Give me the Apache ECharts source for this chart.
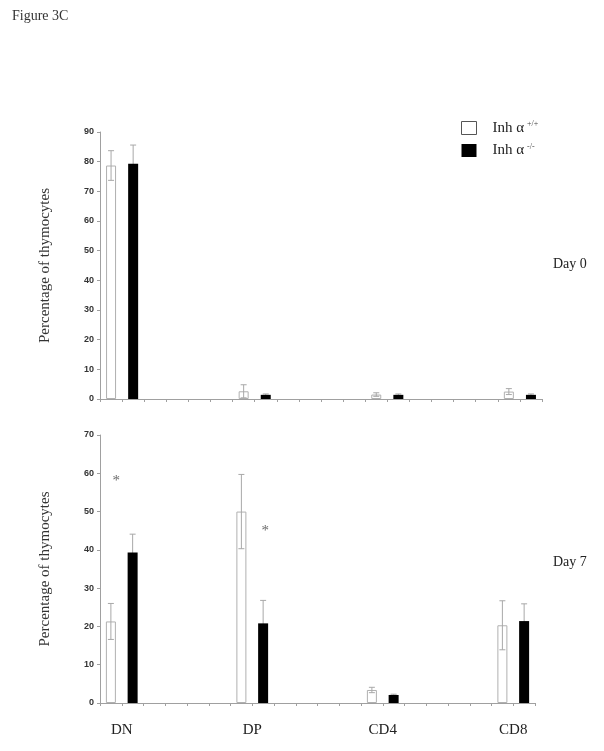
<!DOCTYPE html>
<html><head><meta charset="utf-8">
<script src="https://cdn.jsdelivr.net/npm/echarts@6/dist/echarts.min.js"></script>
<style>html,body{margin:0;padding:0;background:#fff}#c{width:604px;height:751px}</style>
</head><body><div id="c"></div>
<script>
// Data
var categories = ['DN', 'DP', 'CD4', 'CD8'];
var slotWT = [0.5, 6.5, 12.5, 18.5];   // slot position of Inh α +/+ bar in each group
var slotKO = [1.5, 7.5, 13.5, 19.5];   // slot position of Inh α -/- bar
var labelSlot = [1, 7, 13, 19];
var day0WT = [78.7, 2.6, 1.5, 2.5];
var day0WTerr = [5.0, 2.2, 0.6, 1.0];
var day0KO = [79.3, 1.4, 1.4, 1.4];
var day0KOerr = [6.3, 0.3, 0.3, 0.3];
var day7WT = [21.3, 50.0, 3.4, 20.3];
var day7WTerr = [4.7, 9.7, 0.7, 6.4];
var day7KO = [39.3, 20.8, 2.1, 21.4];
var day7KOerr = [4.8, 6.0, 0.2, 4.5];
var stars = [[0.75, 58], [7.6, 45]];
var yTicks0 = {min: 0, max: 90, interval: 10};
var yTicks7 = {min: 0, max: 70, interval: 10};

var serif = '"Liberation Serif", "DejaVu Serif", serif';
var sans = '"Liberation Sans", Arial, sans-serif';
var axisGrey = '#a0a0a0';

function pairs(xs, ys) { return xs.map(function (x, i) { return [x, ys[i]]; }); }
function errs(xs, ys, es) { return xs.map(function (x, i) { return [x, ys[i] - es[i], ys[i] + es[i]]; }); }

function errSeries(idx, data, color, z) {
  return {
    type: 'custom', xAxisIndex: idx, yAxisIndex: idx, z: z, silent: true,
    data: data,
    renderItem: function (params, api) {
      var x = api.value(0);
      var lo = api.coord([x, api.value(1)]);
      var hi = api.coord([x, api.value(2)]);
      var cw = 3;
      return {
        type: 'group', children: [
          {type: 'line', shape: {x1: lo[0], y1: lo[1], x2: hi[0], y2: hi[1]}, style: {stroke: color, lineWidth: 1}},
          {type: 'line', shape: {x1: hi[0] - cw, y1: hi[1], x2: hi[0] + cw, y2: hi[1]}, style: {stroke: color, lineWidth: 1}},
          {type: 'line', shape: {x1: lo[0] - cw, y1: lo[1], x2: lo[0] + cw, y2: lo[1]}, style: {stroke: color, lineWidth: 1}}
        ]
      };
    }
  };
}

function xAxisDef(idx, showLabels) {
  return {
    type: 'value', gridIndex: idx, min: 0, max: 20, interval: 1,
    axisLine: {lineStyle: {color: axisGrey, width: 1}},
    axisTick: {show: true, length: 3, lineStyle: {color: axisGrey}},
    splitLine: {show: false},
    axisLabel: {
      show: showLabels, margin: 20, fontFamily: serif, fontSize: 15, color: '#222',
      formatter: function (v) { var k = labelSlot.indexOf(v); return k >= 0 ? categories[k] : ''; }
    }
  };
}
function yAxisDef(idx, t) {
  return {
    type: 'value', gridIndex: idx, min: t.min, max: t.max, interval: t.interval,
    name: 'Percentage of thymocytes', nameLocation: 'middle', nameGap: 47, nameRotate: 90,
    nameTextStyle: {fontFamily: serif, fontSize: 15, color: '#333'},
    axisLine: {show: true, lineStyle: {color: axisGrey, width: 1}},
    axisTick: {show: true, length: 3, lineStyle: {color: axisGrey}},
    splitLine: {show: false},
    axisLabel: {fontFamily: sans, fontWeight: 'bold', fontSize: 9, color: '#333', margin: 6}
  };
}

var wtStyle = {color: '#ffffff', borderColor: '#b0b0b0', borderWidth: 1};
var koStyle = {color: '#000000'};

var option = {
  animation: false,
  backgroundColor: '#fff',
  title: {text: 'Figure 3C', left: 7, top: 4, textStyle: {fontFamily: serif, fontSize: 14, fontWeight: 'normal', color: '#333'}},
  legend: {
    orient: 'vertical', left: 456, top: 115, itemWidth: 15, itemHeight: 13, itemGap: 7,
    textStyle: {fontFamily: serif, fontSize: 15, color: '#222', padding: [0, 0, 0, 11],
      rich: {sup: {fontFamily: serif, fontSize: 8, color: '#444', verticalAlign: 'top', padding: [0, 0, 8, 3]}}},
    formatter: function (n) { return n === 'wt' ? 'Inh α{sup|+/+}' : 'Inh α{sup|-/-}'; },
    data: [
      {name: 'wt', icon: 'rect', itemStyle: {color: '#fff', borderColor: '#555', borderWidth: 1}},
      {name: 'ko', icon: 'rect', itemStyle: {color: '#000'}}
    ]
  },
  grid: [
    {left: 100, top: 132, width: 442, height: 267},
    {left: 100, top: 435, width: 435, height: 268}
  ],
  xAxis: [xAxisDef(0, false), xAxisDef(1, true)],
  yAxis: [yAxisDef(0, yTicks0), yAxisDef(1, yTicks7)],
  graphic: [
    {type: 'text', left: 553, top: 257, style: {text: 'Day 0', fontFamily: serif, fontSize: 14, fill: '#222'}},
    {type: 'text', left: 553, top: 555, style: {text: 'Day 7', fontFamily: serif, fontSize: 14, fill: '#222'}}
  ],
  series: [
    {name: 'wt', type: 'bar', xAxisIndex: 0, yAxisIndex: 0, z: 3, barWidth: 10, barGap: '-100%', itemStyle: wtStyle, data: pairs(slotWT, day0WT)},
    {name: 'ko', type: 'bar', xAxisIndex: 0, yAxisIndex: 0, z: 3, barWidth: 10, barGap: '-100%', itemStyle: koStyle, data: pairs(slotKO, day0KO)},
    {name: 'wt', type: 'bar', xAxisIndex: 1, yAxisIndex: 1, z: 3, barWidth: 10, barGap: '-100%', itemStyle: wtStyle, data: pairs(slotWT, day7WT)},
    {name: 'ko', type: 'bar', xAxisIndex: 1, yAxisIndex: 1, z: 3, barWidth: 10, barGap: '-100%', itemStyle: koStyle, data: pairs(slotKO, day7KO)},
    errSeries(0, errs(slotWT, day0WT, day0WTerr), '#a8a8a8', 5),
    errSeries(0, errs(slotKO, day0KO, day0KOerr), '#a8a8a8', 1),
    errSeries(1, errs(slotWT, day7WT, day7WTerr), '#a8a8a8', 5),
    errSeries(1, errs(slotKO, day7KO, day7KOerr), '#a8a8a8', 1),
    {type: 'scatter', xAxisIndex: 1, yAxisIndex: 1, symbolSize: 0, silent: true, data: stars,
      label: {show: true, position: 'inside', formatter: '*', fontFamily: serif, fontSize: 15, color: '#444'}}
  ]
};
var chart = echarts.init(document.getElementById('c'), null, {renderer: 'canvas'});
chart.setOption(option);
</script></body></html>
